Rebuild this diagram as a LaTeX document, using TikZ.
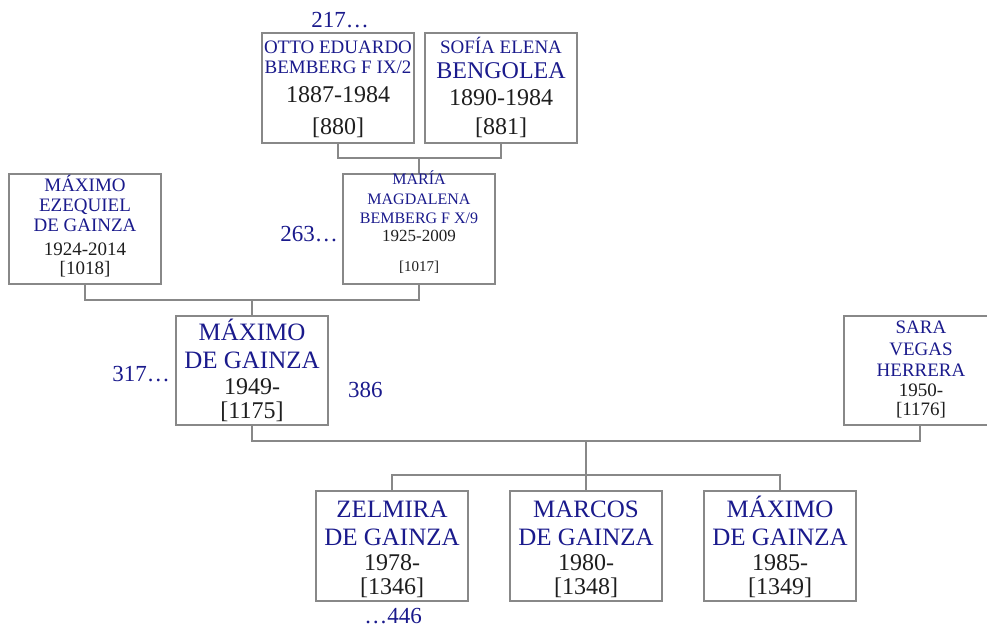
\documentclass[tikz,border=0pt]{standalone}
\usepackage{fontspec}
\setmainfont{Liberation Serif}
\definecolor{nameblue}{RGB}{26,26,140}
\definecolor{boxgray}{RGB}{136,136,136}
\definecolor{txtdark}{RGB}{30,30,30}
\newcommand\fsz[1]{\fontsize{#1}{#1}\selectfont}
\begin{document}
\begin{tikzpicture}[x=1pt,y=-1pt,
  person/.style={draw=boxgray, line width=1.2pt, minimum width=152pt, minimum height=110pt, inner sep=0pt},
  conn/.style={draw=boxgray, line width=1.2pt},
  nm/.style={anchor=base, text=nameblue, inner sep=0pt},
  dt/.style={anchor=base, text=txtdark, inner sep=0pt},
  reflab/.style={text=nameblue, inner sep=0pt, font=\fsz{23}}]
\useasboundingbox (0,0) rectangle (987,628);

% boxes
\node[person] (otto) at (338,88) {};
\node[person] (sofia) at (501,88) {};
\node[person] (maxez) at (85,229) {};
\node[person] (maria) at (419,229) {};
\node[person, minimum height=109pt] (maximo) at (252,370.5) {};
\node[person, minimum height=109pt] (sara) at (920,370.5) {};
\node[person] (zelmira) at (392,546) {};
\node[person] (marcos) at (586,546) {};
\node[person] (maximojr) at (780,546) {};

% connectors
\coordinate (j1) at (419,158);
\draw[conn] (otto.south) |- (j1) -| (sofia.south);
\draw[conn] (j1) -- (maria.north);
\coordinate (j2) at (252,300);
\draw[conn] (maxez.south) |- (j2) -| (maria.south);
\draw[conn] (j2) -- (maximo.north);
\coordinate (j3) at (586,441);
\draw[conn] (maximo.south) |- (j3) -| (sara.south);
\coordinate (j4) at (586,475);
\draw[conn] (j3) -- (j4);
\draw[conn] (zelmira.north) |- (j4) -| (maximojr.north);
\draw[conn] (j4) -- (marcos.north);

% Otto
\node[nm, font=\fsz{19}] (otto1) at (338,54) {OTTO EDUARDO};
\node[nm, font=\fsz{19}] (otto2) at (338,74) {BEMBERG F IX/2};
\node[dt, font=\fsz{24}] (otto3) at (338,103) {1887-1984};
\node[dt, font=\fsz{24}] (otto4) at (338,135) {[880]};
% Sofia
\node[nm, font=\fsz{19}] (sofia1) at (501,54) {SOFÍA ELENA};
\node[nm, font=\fsz{24}] (sofia2) at (501,79) {BENGOLEA};
\node[dt, font=\fsz{24}] (sofia3) at (501,106) {1890-1984};
\node[dt, font=\fsz{24}] (sofia4) at (501,135) {[881]};
% Maximo Ezequiel
\node[nm, font=\fsz{19}] (maxez1) at (85,192) {MÁXIMO};
\node[nm, font=\fsz{19}] (maxez2) at (85,212) {EZEQUIEL};
\node[nm, font=\fsz{19}] (maxez3) at (85,232) {DE GAINZA};
\node[dt, font=\fsz{19}] (maxez4) at (85,255) {1924-2014};
\node[dt, font=\fsz{19}] (maxez5) at (85,274) {[1018]};
% Maria
\node[nm, font=\fsz{16}] (maria1) at (419,185) {MARÍA};
\node[nm, font=\fsz{16}] (maria2) at (419,205) {MAGDALENA};
\node[nm, font=\fsz{16}] (maria3) at (419,224) {BEMBERG F X/9};
\node[dt, font=\fsz{17}] (maria4) at (419,242) {1925-2009};
\node[dt, font=\fsz{15}] (maria5) at (419,272) {[1017]};
% Maximo
\node[nm, font=\fsz{25}] (maximo1) at (252,340) {MÁXIMO};
\node[nm, font=\fsz{25}] (maximo2) at (252,368) {DE GAINZA};
\node[dt, font=\fsz{24}] (maximo3) at (252,394) {1949-};
\node[dt, font=\fsz{24}] (maximo4) at (252,418) {[1175]};
% Sara
\node[nm, font=\fsz{19}] (sara1) at (921,333) {SARA};
\node[nm, font=\fsz{19}] (sara2) at (921,355) {VEGAS};
\node[nm, font=\fsz{19}] (sara3) at (921,376) {HERRERA};
\node[dt, font=\fsz{19}] (sara4) at (921,396) {1950-};
\node[dt, font=\fsz{19}] (sara5) at (921,415) {[1176]};
% Zelmira
\node[nm, font=\fsz{25}] (zel1) at (392,517) {ZELMIRA};
\node[nm, font=\fsz{25}] (zel2) at (392,545) {DE GAINZA};
\node[dt, font=\fsz{24}] (zel3) at (392,570) {1978-};
\node[dt, font=\fsz{24}] (zel4) at (392,594) {[1346]};
% Marcos
\node[nm, font=\fsz{25}] (mar1) at (586,517) {MARCOS};
\node[nm, font=\fsz{25}] (mar2) at (586,545) {DE GAINZA};
\node[dt, font=\fsz{24}] (mar3) at (586,570) {1980-};
\node[dt, font=\fsz{24}] (mar4) at (586,594) {[1348]};
% Maximo jr
\node[nm, font=\fsz{25}] (mj1) at (780,517) {MÁXIMO};
\node[nm, font=\fsz{25}] (mj2) at (780,545) {DE GAINZA};
\node[dt, font=\fsz{24}] (mj3) at (780,570) {1985-};
\node[dt, font=\fsz{24}] (mj4) at (780,594) {[1349]};

% reference labels
\node[reflab, anchor=base] (l217) at (340,28) {217…};
\node[reflab, anchor=base east] (l263) at (338,241) {263…};
\node[reflab, anchor=base east] (l317) at (170,381) {317…};
\node[reflab, anchor=base west] (l386) at (348,397) {386};
\node[reflab, anchor=base] (l446) at (393,623) {…446};
\end{tikzpicture}
\end{document}
